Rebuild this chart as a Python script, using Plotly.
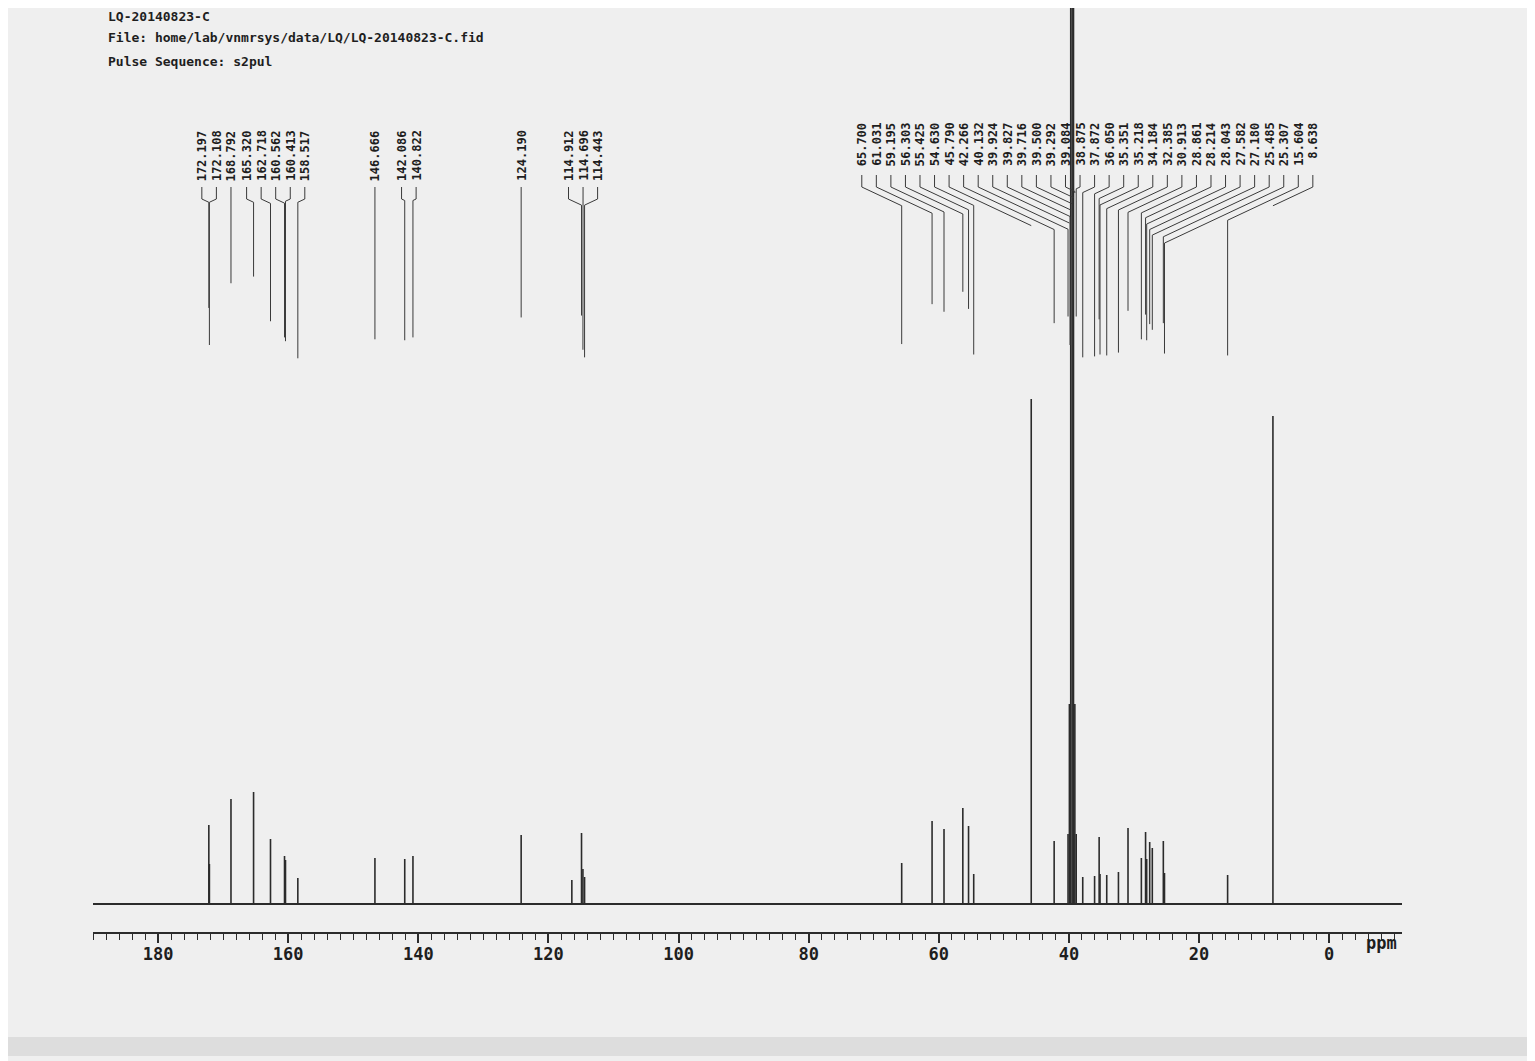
import plotly.graph_objects as go

HEADER = [
    "LQ-20140823-C",
    "File: home/lab/vnmrsys/data/LQ/LQ-20140823-C.fid",
    "Pulse Sequence: s2pul",
]

# peaks: shift (ppm) and height above the baseline (plot units)
peak_ppm = [172.197, 172.108, 168.792, 165.320, 162.718, 160.562, 160.413, 158.517,
            146.666, 142.086, 140.822, 124.190, 116.400, 114.912, 114.696, 114.443,
            65.700, 61.031, 59.195, 56.303, 55.425, 54.630, 45.790, 42.266,
            40.132, 39.924, 39.827, 39.716, 39.500, 39.292, 39.084, 38.875,
            37.872, 36.050, 35.351, 35.218, 34.184, 32.385, 30.913, 28.861,
            28.214, 28.043, 27.582, 27.180, 25.485, 25.307, 15.604, 8.638]
peak_height = [79, 40, 105, 112, 65, 48, 44, 26,
               46, 45, 48, 69, 24, 71, 35, 27,
               41, 83, 75, 96, 78, 30, 505, 63,
               70, 200, 40, 1200, 1200, 1200, 200, 70,
               27, 28, 67, 30, 29, 32, 76, 46,
               72, 45, 62, 56, 63, 31, 29, 488]

# peaks that carry a printed shift label
label_ppm = [172.197, 172.108, 168.792, 165.320, 162.718, 160.562, 160.413, 158.517,
             146.666, 142.086, 140.822, 124.190, 114.912, 114.696, 114.443,
             65.700, 61.031, 59.195, 56.303, 55.425, 54.630, 45.790, 42.266,
             40.132, 39.924, 39.827, 39.716, 39.500, 39.292, 39.084, 38.875,
             37.872, 36.050, 35.351, 35.218, 34.184, 32.385, 30.913, 28.861,
             28.214, 28.043, 27.582, 27.180, 25.485, 25.307, 15.604, 8.638]

X_LEFT, X_RIGHT = 190.0, -11.2
PX_PER_PPM = 6.506
OFF = 8                  # page offset of the plot div
W, H = 1535 - OFF, 1061 - OFF
BASE_PAGE = 904          # page y of the spectrum baseline
PLOT_TOP, PLOT_BOTTOM = OFF, 932
PLOT_L, PLOT_R = 93, 1402
SPACING = 14.55 / PX_PER_PPM
INK = "#2b2b2b"
MONO = "DejaVu Sans Mono"


def page_to_y(py):
    return BASE_PAGE - py


def px(x):
    return (x - PLOT_L) / (PLOT_R - PLOT_L)


def py(y):
    return 1 - (y - PLOT_TOP) / (PLOT_BOTTOM - PLOT_TOP)


# spread labels like the plotter does: clusters centred on their peak span
groups = [[p] for p in label_ppm]


def spread(g):
    c = (g[0] + g[-1]) / 2
    n = len(g)
    return [c - (k - (n - 1) / 2) * SPACING for k in range(n)]


merged = True
while merged:
    merged = False
    for i in range(len(groups) - 1):
        if spread(groups[i])[-1] - spread(groups[i + 1])[0] < SPACING:
            groups[i] = groups[i] + groups[i + 1]
            del groups[i + 1]
            merged = True
            break

height_of = dict(zip(peak_ppm, peak_height))

fig = go.Figure()

# scanner shadow along the bottom edge
fig.add_shape(type="rect", xref="paper", yref="paper", x0=px(0), x1=px(1535),
              y0=py(1056), y1=py(1037),
              fillcolor="rgba(110,110,110,0.14)", line_width=0, layer="below")

# baseline and peak sticks
fig.add_trace(go.Scatter(x=[X_LEFT, X_RIGHT], y=[0, 0], mode="lines",
                         line=dict(color=INK, width=2.2), hoverinfo="skip"))
sx, sy = [], []
for p, h in zip(peak_ppm, peak_height):
    sx += [p, p, None]
    sy += [0, h, None]
fig.add_trace(go.Scatter(x=sx, y=sy, mode="lines",
                         line=dict(color=INK, width=1.6), hoverinfo="skip"))

# labels and leader lines
lx, ly = [], []
for g in groups:
    for p, xl in zip(g, spread(g)):
        long_lbl = p >= 100
        top = 128 if long_lbl else 121
        start = 187 if long_lbl else 175
        bend = start + 12
        dx = abs(xl - p) * PX_PER_PPM
        knee = bend + 0.47 * dx
        end = max(knee, 383 - 0.95 * height_of[p])
        lx += [xl, xl, p, p, None]
        ly += [page_to_y(start), page_to_y(bend), page_to_y(knee), page_to_y(end), None]
        fig.add_annotation(x=xl, y=page_to_y(top), text=f"{p:.3f}", textangle=-90,
                           showarrow=False, xanchor="center", yanchor="top",
                           font=dict(family=MONO, size=12, color="#1e1e1e", weight="bold"))
fig.add_trace(go.Scatter(x=lx, y=ly, mode="lines",
                         line=dict(color="#3a3a3a", width=1), hoverinfo="skip"))

for i, yc in enumerate([16, 37, 61]):
    fig.add_annotation(xref="paper", yref="paper", x=px(106), y=py(yc),
                       text=HEADER[i], showarrow=False, xanchor="left", yanchor="middle",
                       font=dict(family=MONO, size=13, color="#1e1e1e", weight="bold"))

fig.add_annotation(xref="paper", yref="paper", x=px(1381), y=py(943), text="ppm",
                   showarrow=False, xanchor="center", yanchor="middle",
                   font=dict(family=MONO, size=17, color="#1e1e1e", weight="bold"))

fig.update_xaxes(range=[X_LEFT, X_RIGHT], showgrid=False, zeroline=False,
                 showline=True, linecolor=INK, linewidth=1.5,
                 ticks="outside", ticklen=9, tickwidth=1.5, tickcolor=INK,
                 tickmode="linear", tick0=0, dtick=20, ticklabelstandoff=-3,
                 tickfont=dict(family=MONO, size=17, color="#1e1e1e", weight="bold"),
                 minor=dict(dtick=2, tick0=0, ticks="outside", ticklen=6,
                            tickwidth=1.2, tickcolor=INK))
fig.update_yaxes(range=[page_to_y(PLOT_BOTTOM), page_to_y(PLOT_TOP)], visible=False)

fig.update_layout(width=W, height=H, showlegend=False,
                  margin=dict(l=PLOT_L - OFF, r=W - (PLOT_R - OFF), t=0,
                              b=H - (PLOT_BOTTOM - OFF)),
                  paper_bgcolor="#efefef", plot_bgcolor="#efefef")

fig.write_html("out.html")
